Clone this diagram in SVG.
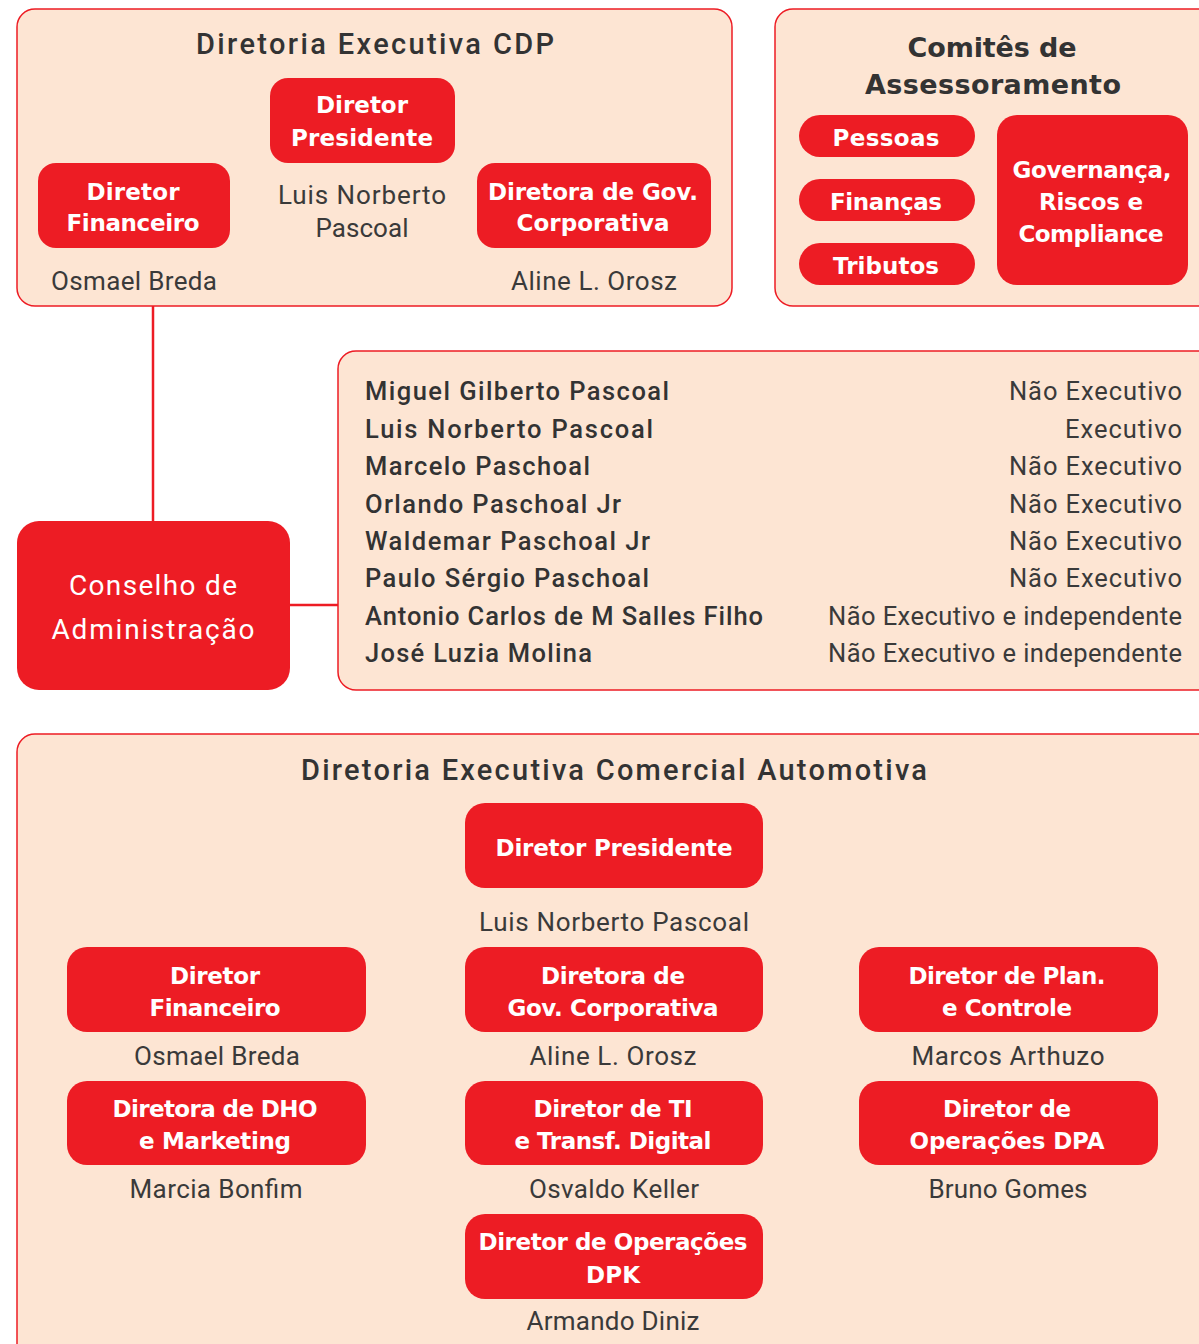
<svg xmlns="http://www.w3.org/2000/svg" width="1199" height="1344" viewBox="0 0 1199 1344">
<style>
.panel{fill:#FDE5D3;stroke:#ED1C24;stroke-width:1.5}
.box{fill:#ED1C24}
.conn{stroke:#ED1C24;stroke-width:2.5;fill:none}
.w{fill:#fff;font-family:"DejaVu Sans",Roboto,sans-serif;font-weight:700;font-size:23px;text-anchor:middle}
.g{fill:#3a3a3a;font-family:Roboto,"Liberation Sans",sans-serif;font-weight:400;font-size:26px;text-anchor:middle}
.t{fill:#333;font-family:Roboto,"Liberation Sans",sans-serif;font-weight:500;font-size:29px;text-anchor:middle}
.tb{fill:#333;font-family:"DejaVu Sans",Roboto,sans-serif;font-weight:700;font-size:27px;text-anchor:middle}
.n{fill:#333;font-family:Roboto,"Liberation Sans",sans-serif;font-weight:500;font-size:25.5px}
.r{fill:#3a3a3a;font-family:Roboto,"Liberation Sans",sans-serif;font-weight:400;font-size:25.5px;text-anchor:end}
.cw{fill:#fff;font-family:Roboto,"Liberation Sans",sans-serif;font-weight:400;font-size:28px;text-anchor:middle}
</style>

<g id="connectors">
<line class="conn" x1="153" y1="306" x2="153" y2="521"/>
<line class="conn" x1="290" y1="605" x2="338" y2="605"/>
</g>

<g id="diretoria-cdp">
<rect class="panel" x="17" y="9" width="715" height="297" rx="18"/>
<text class="t" x="375" y="54" textLength="358" lengthAdjust="spacing">Diretoria Executiva CDP</text>
</g>
<g id="cdp-presidente">
<rect class="box" x="270" y="78" width="185" height="85" rx="18"/>
<text class="w" x="362" y="113" textLength="92" lengthAdjust="spacing">Diretor</text>
<text class="w" x="362" y="146" textLength="142" lengthAdjust="spacing">Presidente</text>
<text class="g" x="362" y="204" textLength="168" lengthAdjust="spacing">Luis Norberto</text>
<text class="g" x="362" y="237" textLength="93" lengthAdjust="spacing">Pascoal</text>
</g>
<g id="cdp-financeiro">
<rect class="box" x="38" y="163" width="192" height="85" rx="18"/>
<text class="w" x="133" y="200" textLength="93" lengthAdjust="spacing">Diretor</text>
<text class="w" x="133" y="231" textLength="133" lengthAdjust="spacing">Financeiro</text>
<text class="g" x="134" y="290" textLength="166" lengthAdjust="spacing">Osmael Breda</text>
</g>
<g id="cdp-governanca">
<rect class="box" x="477" y="163" width="234" height="85" rx="18"/>
<text class="w" x="593" y="200" textLength="210" lengthAdjust="spacing">Diretora de Gov.</text>
<text class="w" x="593" y="231" textLength="153" lengthAdjust="spacing">Corporativa</text>
<text class="g" x="594" y="290" textLength="166" lengthAdjust="spacing">Aline L. Orosz</text>
</g>

<g id="comites">
<rect class="panel" x="775" y="9" width="440" height="297" rx="18"/>
<text class="tb" x="992" y="57" textLength="169" lengthAdjust="spacing">Comitês de</text>
<text class="tb" x="993" y="94" textLength="256" lengthAdjust="spacing">Assessoramento</text>
</g>
<g id="comite-pessoas">
<rect class="box" x="799" y="115" width="176" height="42" rx="21"/>
<text class="w" x="886" y="146" textLength="107" lengthAdjust="spacing">Pessoas</text>
</g>
<g id="comite-financas">
<rect class="box" x="799" y="179" width="176" height="42" rx="21"/>
<text class="w" x="886" y="210" textLength="112" lengthAdjust="spacing">Finanças</text>
</g>
<g id="comite-tributos">
<rect class="box" x="799" y="243" width="176" height="42" rx="21"/>
<text class="w" x="886" y="274" textLength="106" lengthAdjust="spacing">Tributos</text>
</g>
<g id="comite-governanca">
<rect class="box" x="997" y="115" width="191" height="170" rx="20"/>
<text class="w" x="1092" y="178" textLength="159" lengthAdjust="spacing">Governança,</text>
<text class="w" x="1091" y="210" textLength="104" lengthAdjust="spacing">Riscos e</text>
<text class="w" x="1091" y="242" textLength="145" lengthAdjust="spacing">Compliance</text>
</g>

<g id="conselho">
<rect class="box" x="17" y="521" width="273" height="169" rx="22"/>
<text class="cw" x="153" y="595" textLength="168" lengthAdjust="spacing">Conselho de</text>
<text class="cw" x="153" y="639" textLength="203" lengthAdjust="spacing">Administração</text>
</g>

<g id="membros">
<rect class="panel" x="338" y="351" width="880" height="339" rx="18"/>
<text class="n" x="365" y="400" textLength="304" lengthAdjust="spacing">Miguel Gilberto Pascoal</text>
<text class="n" x="365" y="438" textLength="288" lengthAdjust="spacing">Luis Norberto Pascoal</text>
<text class="n" x="365" y="475" textLength="225" lengthAdjust="spacing">Marcelo Paschoal</text>
<text class="n" x="365" y="513" textLength="256" lengthAdjust="spacing">Orlando Paschoal Jr</text>
<text class="n" x="365" y="550" textLength="285" lengthAdjust="spacing">Waldemar Paschoal Jr</text>
<text class="n" x="365" y="587" textLength="284" lengthAdjust="spacing">Paulo Sérgio Paschoal</text>
<text class="n" x="365" y="625" textLength="398" lengthAdjust="spacing">Antonio Carlos de M Salles Filho</text>
<text class="n" x="365" y="662" textLength="227" lengthAdjust="spacing">José Luzia Molina</text>
<text class="r" x="1182" y="400" textLength="173" lengthAdjust="spacing">Não Executivo</text>
<text class="r" x="1182" y="438" textLength="117" lengthAdjust="spacing">Executivo</text>
<text class="r" x="1182" y="475" textLength="173" lengthAdjust="spacing">Não Executivo</text>
<text class="r" x="1182" y="513" textLength="173" lengthAdjust="spacing">Não Executivo</text>
<text class="r" x="1182" y="550" textLength="173" lengthAdjust="spacing">Não Executivo</text>
<text class="r" x="1182" y="587" textLength="173" lengthAdjust="spacing">Não Executivo</text>
<text class="r" x="1182" y="625" textLength="354" lengthAdjust="spacing">Não Executivo e independente</text>
<text class="r" x="1182" y="662" textLength="354" lengthAdjust="spacing">Não Executivo e independente</text>
</g>

<g id="diretoria-automotiva">
<rect class="panel" x="17" y="734" width="1200" height="640" rx="18"/>
<text class="t" x="614" y="780" textLength="626" lengthAdjust="spacing">Diretoria Executiva Comercial Automotiva</text>
</g>
<g id="auto-presidente">
<rect class="box" x="465" y="803" width="298" height="85" rx="20"/>
<text class="w" x="614" y="856" textLength="237" lengthAdjust="spacing">Diretor Presidente</text>
<text class="g" x="614" y="931" textLength="270" lengthAdjust="spacing">Luis Norberto Pascoal</text>
</g>
<g id="auto-financeiro">
<rect class="box" x="67" y="947" width="299" height="85" rx="20"/>
<text class="w" x="215" y="984" textLength="90" lengthAdjust="spacing">Diretor</text>
<text class="w" x="215" y="1016" textLength="131" lengthAdjust="spacing">Financeiro</text>
<text class="g" x="217" y="1065" textLength="166" lengthAdjust="spacing">Osmael Breda</text>
</g>
<g id="auto-governanca">
<rect class="box" x="465" y="947" width="298" height="85" rx="20"/>
<text class="w" x="613" y="984" textLength="144" lengthAdjust="spacing">Diretora de</text>
<text class="w" x="613" y="1016" textLength="211" lengthAdjust="spacing">Gov. Corporativa</text>
<text class="g" x="613" y="1065" textLength="167" lengthAdjust="spacing">Aline L. Orosz</text>
</g>
<g id="auto-plan">
<rect class="box" x="859" y="947" width="299" height="85" rx="20"/>
<text class="w" x="1007" y="984" textLength="197" lengthAdjust="spacing">Diretor de Plan.</text>
<text class="w" x="1007" y="1016" textLength="130" lengthAdjust="spacing">e Controle</text>
<text class="g" x="1008" y="1065" textLength="193" lengthAdjust="spacing">Marcos Arthuzo</text>
</g>
<g id="auto-dho">
<rect class="box" x="67" y="1081" width="299" height="84" rx="20"/>
<text class="w" x="215" y="1117" textLength="205" lengthAdjust="spacing">Diretora de DHO</text>
<text class="w" x="215" y="1149" textLength="152" lengthAdjust="spacing">e Marketing</text>
<text class="g" x="216" y="1198" textLength="173" lengthAdjust="spacing">Marcia Bonfim</text>
</g>
<g id="auto-ti">
<rect class="box" x="465" y="1081" width="298" height="84" rx="20"/>
<text class="w" x="613" y="1117" textLength="159" lengthAdjust="spacing">Diretor de TI</text>
<text class="w" x="613" y="1149" textLength="197" lengthAdjust="spacing">e Transf. Digital</text>
<text class="g" x="614" y="1198" textLength="170" lengthAdjust="spacing">Osvaldo Keller</text>
</g>
<g id="auto-dpa">
<rect class="box" x="859" y="1081" width="299" height="84" rx="20"/>
<text class="w" x="1007" y="1117" textLength="128" lengthAdjust="spacing">Diretor de</text>
<text class="w" x="1007" y="1149" textLength="195" lengthAdjust="spacing">Operações DPA</text>
<text class="g" x="1008" y="1198" textLength="159" lengthAdjust="spacing">Bruno Gomes</text>
</g>
<g id="auto-dpk">
<rect class="box" x="465" y="1214" width="298" height="85" rx="20"/>
<text class="w" x="613" y="1250" textLength="269" lengthAdjust="spacing">Diretor de Operações</text>
<text class="w" x="613" y="1283" textLength="54" lengthAdjust="spacing">DPK</text>
<text class="g" x="613" y="1330" textLength="173" lengthAdjust="spacing">Armando Diniz</text>
</g>
</svg>
